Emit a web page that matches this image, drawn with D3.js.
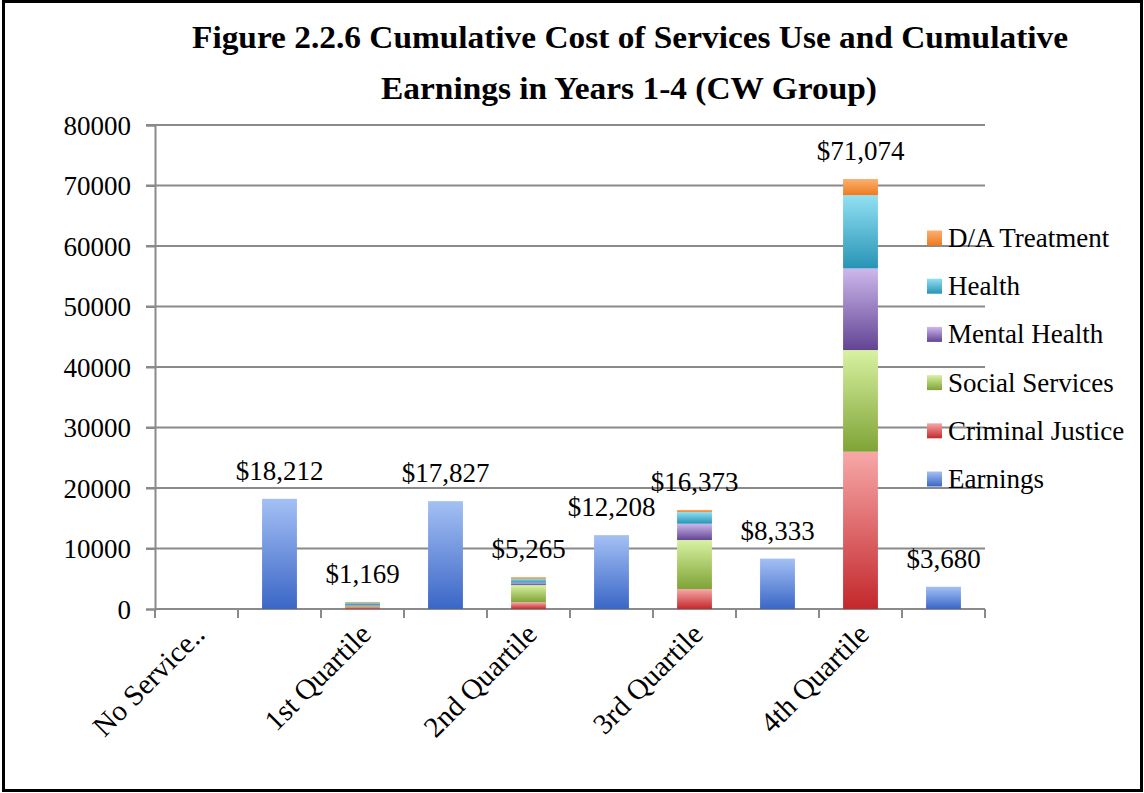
<!DOCTYPE html>
<html>
<head>
<meta charset="utf-8">
<script src="https://cdn.jsdelivr.net/npm/d3@7"></script>
<style>
  html, body { margin: 0; padding: 0; background: #fff; }
  svg { display: block; }
  text { font-family: "Liberation Serif", "DejaVu Serif", serif; fill: #000; }
</style>
</head>
<body>
<svg id="chart" width="1144" height="793"></svg>
<script>
// ---- data ----
const categories = ["No Service..", "", "1st Quartile", "", "2nd Quartile", "", "3rd Quartile", "", "4th Quartile", ""];
const earnings        = [0, 18212, 0, 17827, 0, 12208, 0, 8333, 0, 3680];
const criminalJustice = [0, 0, 350, 0, 1100, 0, 3300, 0, 26000, 0];
const socialServices  = [0, 0, 200, 0, 2850, 0, 8100, 0, 16800, 0];
const mentalHealth    = [0, 0, 100, 0, 400, 0, 2700, 0, 13500, 0];
const health          = [0, 0, 400, 0, 650, 0, 1950, 0, 12100, 0];
const daTreatment     = [0, 0, 119, 0, 265, 0, 323, 0, 2674, 0];
const seriesNames = ["Earnings", "Criminal Justice", "Social Services", "Mental Health", "Health", "D/A Treatment"];
const yTicks = [0, 10000, 20000, 30000, 40000, 50000, 60000, 70000, 80000];
const titleLines = ["Figure 2.2.6 Cumulative Cost of Services Use and Cumulative", "Earnings  in Years 1-4 (CW Group)"];

const seriesValues = [earnings, criminalJustice, socialServices, mentalHealth, health, daTreatment];
const gradients = [
  ["#a4c0f4", "#3a66c6"],
  ["#f7a8a8", "#c3282c"],
  ["#d8f2a2", "#7fa336"],
  ["#cdb8ec", "#634494"],
  ["#92e0f4", "#2794b4"],
  ["#fbb070", "#ee7a1e"]
];

const rows = categories.map((c, i) => {
  const r = { idx: i };
  seriesNames.forEach((s, k) => r[s] = seriesValues[k][i]);
  return r;
});
const totals = categories.map((c, i) => d3.sum(seriesValues, s => s[i]));

const svg = d3.select("#chart");
const margin = { left: 155, right: 985, top: 125, bottom: 609 };

// frame
svg.append("rect").attr("x", 3.5).attr("y", 1.5).attr("width", 1138).attr("height", 789)
  .attr("fill", "#fff").attr("stroke", "#000").attr("stroke-width", 3);

// gradients
const defs = svg.append("defs");
seriesNames.forEach((s, k) => {
  const g = defs.append("linearGradient").attr("id", "g" + k)
    .attr("x1", 0).attr("y1", 0).attr("x2", 0).attr("y2", 1);
  g.append("stop").attr("offset", "0%").attr("stop-color", gradients[k][0]);
  g.append("stop").attr("offset", "100%").attr("stop-color", gradients[k][1]);
});

const x = d3.scaleBand().domain(d3.range(categories.length))
  .range([margin.left, margin.right]).paddingInner(0.58).paddingOuter(0.29);
const y = d3.scaleLinear().domain([0, 80000]).range([margin.bottom, margin.top]);

// gridlines
svg.append("g").selectAll("line").data(yTicks.slice(1)).join("line")
  .attr("x1", margin.left - 9).attr("x2", margin.right)
  .attr("y1", d => y(d)).attr("y2", d => y(d))
  .attr("stroke", "#8a8a8a").attr("stroke-width", 2);

// y axis
const yAxis = svg.append("g").attr("transform", `translate(${margin.left},0)`)
  .call(d3.axisLeft(y).tickValues(yTicks).tickFormat(d3.format("d")).tickSize(9).tickPadding(15));
yAxis.select(".domain").attr("stroke", "#8a8a8a").attr("stroke-width", 2);
yAxis.selectAll(".tick line").attr("stroke", "#8a8a8a").attr("stroke-width", 2);
yAxis.selectAll(".tick text").attr("font-size", 27).attr("font-family", "Liberation Serif").attr("dy", "0.34em");

// x axis
const step = x.step();
const boundaries = d3.range(categories.length + 1).map(i => margin.left + i * step);
svg.append("line").attr("x1", margin.left).attr("x2", margin.right)
  .attr("y1", margin.bottom).attr("y2", margin.bottom)
  .attr("stroke", "#8a8a8a").attr("stroke-width", 2);
svg.append("g").selectAll("line").data(boundaries).join("line")
  .attr("x1", d => d).attr("x2", d => d)
  .attr("y1", margin.bottom).attr("y2", margin.bottom + 9)
  .attr("stroke", "#8a8a8a").attr("stroke-width", 2);

// bars
const stack = d3.stack().keys(seriesNames)(rows);
stack.forEach((layer, k) => {
  svg.append("g").selectAll("rect").data(layer.filter(d => d[1] - d[0] > 0)).join("rect")
    .attr("x", d => x(d.data.idx))
    .attr("width", x.bandwidth())
    .attr("y", d => y(d[1]))
    .attr("height", d => y(d[0]) - y(d[1]))
    .attr("fill", `url(#g${k})`);
});

// data labels
svg.append("g").selectAll("text").data(d3.range(categories.length).filter(i => totals[i] > 0)).join("text")
  .attr("x", i => x(i) + x.bandwidth() / 2)
  .attr("y", i => y(totals[i]) - 19)
  .attr("text-anchor", "middle").attr("font-size", 27)
  .text(i => "$" + d3.format(",")(totals[i]));

// category labels
svg.append("g").selectAll("text").data(d3.range(categories.length).filter(i => categories[i] !== "")).join("text")
  .attr("transform", i => `translate(${x(i) + x.bandwidth() / 2 + 10},${margin.bottom + 27}) rotate(-45)`)
  .attr("text-anchor", "end").attr("font-size", 29)
  .text(i => categories[i]);

// legend
const legendOrder = seriesNames.map((s, k) => k).reverse();
const lg = svg.append("g");
legendOrder.forEach((k, j) => {
  const cy = 238 + j * 48.2;
  lg.append("rect").attr("x", 927).attr("y", cy - 7.5).attr("width", 15).attr("height", 15)
    .attr("fill", `url(#g${k})`);
  lg.append("text").attr("x", 948).attr("y", cy + 9).attr("font-size", 27).text(seriesNames[k]);
});

// title
svg.append("text").attr("x", 630).attr("y", 48).attr("text-anchor", "middle")
  .attr("font-size", 31).attr("font-weight", "bold")
  .attr("textLength", 876).attr("lengthAdjust", "spacingAndGlyphs").text(titleLines[0]);
svg.append("text").attr("x", 629).attr("y", 99).attr("text-anchor", "middle")
  .attr("font-size", 31).attr("font-weight", "bold")
  .attr("textLength", 496).attr("lengthAdjust", "spacingAndGlyphs").text(titleLines[1]);
</script>
</body>
</html>
